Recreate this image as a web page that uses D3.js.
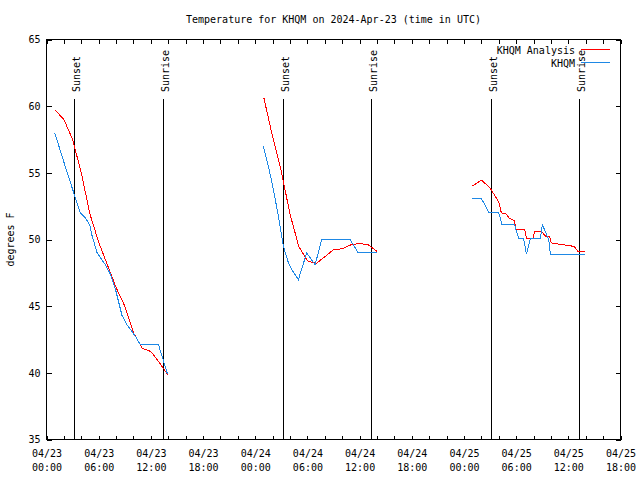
<!DOCTYPE html>
<html>
<head>
<meta charset="utf-8">
<script src="https://cdn.jsdelivr.net/npm/d3@7"></script>
<style>
body { margin: 0; background: #fff; }
text { font-family: "DejaVu Sans Mono", monospace; font-size: 10px; fill: #000; }
</style>
</head>
<body>
<div id="chart"></div>
<script>
// Chart values (times are UTC, "mm/dd HH:MM"), null = gap between days
var analysisTimes = [
    "04/23 01:00", "04/23 02:00", "04/23 03:00", "04/23 04:00", "04/23 05:00", "04/23 06:00", "04/23 07:00",
    "04/23 08:00", "04/23 09:00", "04/23 10:00", "04/23 11:00", "04/23 12:00", "04/23 13:00", "04/23 14:00",
    null,
    "04/24 01:00", "04/24 02:00", "04/24 03:00", "04/24 04:00", "04/24 05:00", "04/24 06:00", "04/24 07:00",
    "04/24 08:00", "04/24 09:00", "04/24 10:00", "04/24 11:00", "04/24 12:00", "04/24 13:00", "04/24 14:00",
    null,
    "04/25 00:56", "04/25 02:01", "04/25 02:58", "04/25 03:44", "04/25 04:01", "04/25 04:18", "04/25 04:53",
    "04/25 05:11", "04/25 05:50", "04/25 05:57", "04/25 06:59", "04/25 07:11", "04/25 07:56", "04/25 08:08",
    "04/25 08:54", "04/25 09:28", "04/25 09:51", "04/25 10:03", "04/25 11:23", "04/25 12:09", "04/25 12:43",
    "04/25 13:06", "04/25 13:52"
];
var analysisTemps = [
    59.7, 59.0, 57.5, 55.0, 51.9, 49.8, 48.1, 46.4, 45.0, 43.0, 41.85, 41.6, 40.75, 39.8,
    null,
    60.6, 57.7, 55.1, 51.9, 49.5, 48.4, 48.2, 48.7, 49.25, 49.3, 49.6, 49.7, 49.6, 49.1,
    null,
    54.0, 54.45, 53.9, 53.1, 52.75, 52.0, 51.9, 51.6, 51.4, 50.75, 50.75, 50.1, 50.1, 50.6,
    50.6, 50.2, 50.2, 49.75, 49.6, 49.55, 49.45, 49.1, 49.1
];

var obsTimes = [
    "04/23 00:57", "04/23 02:00", "04/23 03:08", "04/23 03:54", "04/23 04:29", "04/23 04:58", "04/23 05:15",
    "04/23 05:49", "04/23 06:46", "04/23 07:21", "04/23 07:55", "04/23 08:41", "04/23 09:16", "04/23 10:13",
    "04/23 10:47", "04/23 12:53", "04/23 13:17", "04/23 13:55",
    null,
    "04/24 00:56", "04/24 01:31", "04/24 02:05", "04/24 02:40", "04/24 03:14", "04/24 03:49", "04/24 04:12",
    "04/24 04:58", "04/24 05:55", "04/24 06:53", "04/24 07:39", "04/24 10:54", "04/24 11:51", "04/24 13:58",
    null,
    "04/25 00:56", "04/25 02:01", "04/25 02:24", "04/25 02:53", "04/25 04:00", "04/25 04:23", "04/25 05:50",
    "04/25 06:02", "04/25 06:20", "04/25 06:52", "04/25 07:11", "04/25 07:38", "04/25 08:47", "04/25 09:01",
    "04/25 09:24", "04/25 09:46", "04/25 09:56", "04/25 13:58"
];
var obsTemps = [
    58.0, 55.8, 53.5, 52.0, 51.6, 51.1, 50.25, 49.0, 48.1, 47.4, 46.3, 44.3, 43.6, 42.75, 42.1, 42.1, 41.25, 39.9,
    null,
    57.0, 55.5, 53.75, 51.75, 49.5, 48.25, 47.75, 47.0, 49.0, 48.1, 50.0, 50.0, 49.0, 49.0,
    null,
    53.05, 53.05, 52.6, 52.0, 52.0, 51.1, 51.1, 50.6, 50.05, 50.05, 48.9, 50.05, 50.05, 51.1,
    50.55, 49.9, 48.9, 48.9
];

var sunsetTimes = ["04/23 03:10", "04/24 03:12", "04/25 03:13"];
var sunriseTimes = ["04/23 13:24", "04/24 13:22", "04/25 13:20"];

var xTickDays = ["04/23", "04/23", "04/23", "04/23", "04/24", "04/24", "04/24", "04/24", "04/25", "04/25", "04/25", "04/25"];
var xTickHours = ["00:00", "06:00", "12:00", "18:00", "00:00", "06:00", "12:00", "18:00", "00:00", "06:00", "12:00", "18:00"];
var yTicks = [35, 40, 45, 50, 55, 60, 65];

var seriesNames = ["KHQM Analysis", "KHQM"];
var titleText = "Temperature for KHQM on 2024-Apr-23 (time in UTC)";
var yLabelText = "degrees F";

// Layout (plot box edges on half pixels so 1px strokes stay sharp)
var svgWidth = 640;
var svgHeight = 480;
var plotLeft = 46.5, plotRight = 620.5, plotTop = 39.5, plotBottom = 439.5;
var seriesColors = ["#ff0000", "#1e88e5"];

var parseTime = d3.utcParse("%Y/%m/%d %H:%M");
function toDate(s) {
    return s === null ? null : parseTime("2024/" + s);
}

var svg = d3.select("#chart")
    .append("svg")
    .attr("width", svgWidth)
    .attr("height", svgHeight)
    .style("display", "block");

// Scales
var tickDates = xTickDays.map(function(d, i) { return toDate(d + " " + xTickHours[i]); });
var xScale = d3.scaleUtc()
    .domain([tickDates[0], tickDates[tickDates.length - 1]])
    .range([plotLeft, plotRight]);

var yScale = d3.scaleLinear()
    .domain([35, 65])
    .range([plotBottom, plotTop]);

// Minor ticks every 2 hours, on bottom and top
var minorTicks = xScale.ticks(d3.utcHour.every(2));

svg.append("g")
    .attr("transform", `translate(0, ${plotBottom})`)
    .call(d3.axisBottom(xScale).tickValues(minorTicks).tickSize(-4).tickFormat(""))
    .call(g => g.select(".domain").remove());

svg.append("g")
    .attr("transform", `translate(0, ${plotTop})`)
    .call(d3.axisTop(xScale).tickValues(minorTicks).tickSize(-4).tickFormat(""))
    .call(g => g.select(".domain").remove());

// Two line x labels
var labelAxis = svg.append("g")
    .attr("transform", `translate(0, ${plotBottom})`)
    .call(d3.axisBottom(xScale).tickValues(tickDates).tickSize(0).tickPadding(0).tickFormat(""))
    .call(g => g.select(".domain").remove());

labelAxis.selectAll(".tick text")
    .attr("dy", null)
    .attr("y", 0)
    .each(function(d, i) {
        var t = d3.select(this);
        t.append("tspan").attr("x", 0).attr("y", 17).text(xTickDays[i]);
        t.append("tspan").attr("x", 0).attr("y", 31).text(xTickHours[i]);
    });

// Y axis left and right
svg.append("g")
    .attr("transform", `translate(${plotLeft}, 0)`)
    .call(d3.axisLeft(yScale).tickValues(yTicks).tickSize(-5).tickPadding(6))
    .call(g => g.select(".domain").remove());

svg.append("g")
    .attr("transform", `translate(${plotRight}, 0)`)
    .call(d3.axisRight(yScale).tickValues(yTicks).tickSize(-5).tickFormat(""))
    .call(g => g.select(".domain").remove());

svg.selectAll(".tick line")
    .attr("stroke", "#000")
    .attr("shape-rendering", "crispEdges");

svg.selectAll(".tick text")
    .attr("font-family", null)
    .attr("font-size", null);

// Frame
svg.append("rect")
    .attr("x", plotLeft)
    .attr("y", plotTop)
    .attr("width", plotRight - plotLeft)
    .attr("height", plotBottom - plotTop)
    .attr("fill", "none")
    .attr("stroke", "#000")
    .attr("shape-rendering", "crispEdges");

// Sunset / sunrise markers
function addMarkers(times, label) {
    times.forEach(function(s) {
        var xPos = Math.round(xScale(toDate(s)) - 0.5) + 0.5;
        svg.append("line")
            .attr("x1", xPos).attr("x2", xPos)
            .attr("y1", 99).attr("y2", plotBottom)
            .attr("stroke", "#000")
            .attr("shape-rendering", "crispEdges");
        svg.append("text")
            .attr("transform", `translate(${xPos + 5}, 92) rotate(-90)`)
            .text(label);
    });
}
addMarkers(sunsetTimes, "Sunset");
addMarkers(sunriseTimes, "Sunrise");

// Lines
var line = d3.line()
    .defined(d => d.t !== null)
    .x(d => xScale(d.t))
    .y(d => yScale(d.v));

var analysisData = analysisTimes.map(function(s, i) { return { t: toDate(s), v: analysisTemps[i] }; });
var obsData = obsTimes.map(function(s, i) { return { t: toDate(s), v: obsTemps[i] }; });

[analysisData, obsData].forEach(function(data, i) {
    svg.append("path")
        .datum(data)
        .attr("fill", "none")
        .attr("stroke", seriesColors[i])
        .attr("stroke-width", 1)
        .attr("shape-rendering", "crispEdges")
        .attr("d", line);
});

// Legend
seriesNames.forEach(function(name, i) {
    var ly = 49.5 + i * 13;
    svg.append("text")
        .attr("x", 575)
        .attr("y", ly + 4)
        .attr("text-anchor", "end")
        .text(name);
    svg.append("line")
        .attr("x1", 581).attr("x2", 610)
        .attr("y1", ly).attr("y2", ly)
        .attr("stroke", seriesColors[i])
        .attr("shape-rendering", "crispEdges");
});

// Title and axis label
svg.append("text")
    .attr("x", (plotLeft + plotRight) / 2)
    .attr("y", 23)
    .attr("text-anchor", "middle")
    .text(titleText);

svg.append("text")
    .attr("transform", `translate(14, ${(plotTop + plotBottom) / 2}) rotate(-90)`)
    .attr("text-anchor", "middle")
    .text(yLabelText);
</script>
</body>
</html>
